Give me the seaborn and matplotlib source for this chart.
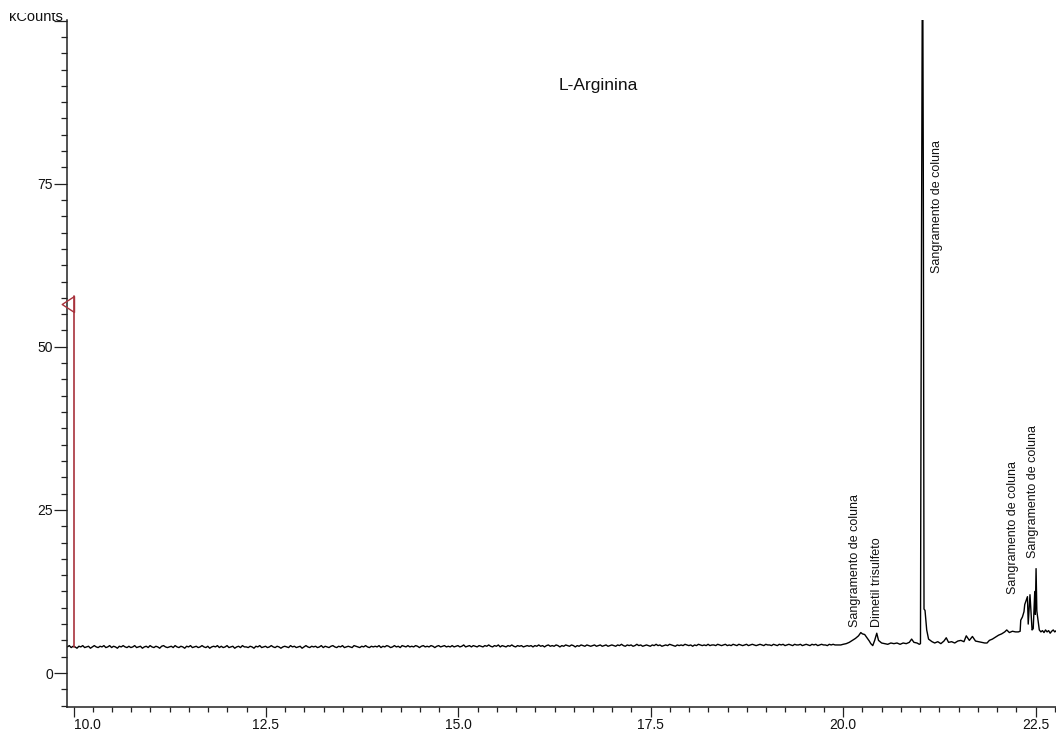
import numpy as np
import pandas as pd
import matplotlib
matplotlib.use("Agg")
import matplotlib.pyplot as plt
import seaborn as sns
from matplotlib.path import Path
from matplotlib.patches import Rectangle
from matplotlib.ticker import FixedLocator, MultipleLocator

sns.set_theme(style="ticks")
plt.rcParams["font.family"] = ["Liberation Sans", "DejaVu Sans"]

# --- chromatogram data (retention time in min, intensity in kCounts) ---
# baseline sampled every 0.025 min starting at 9.92 min
baseline_start = 9.92
baseline_step = 0.025
baseline_counts = [
    4.0, 4.2, 3.9, 4.1, 4.0, 3.8, 4.1, 4.0, 4.2, 3.9, 4.0, 4.1, 3.8, 4.0, 4.2, 4.0, 3.9, 4.1, 4.0, 4.2,
    3.9, 4.0, 4.2, 3.9, 4.1, 4.0, 3.8, 4.1, 4.0, 4.2, 4.0, 3.9, 4.1, 3.9, 4.0, 4.2, 3.9, 4.0, 4.1, 3.8,
    4.0, 4.1, 3.9, 4.2, 4.0, 3.9, 4.1, 4.0, 3.8, 4.1, 4.2, 4.0, 3.9, 4.0, 4.1, 3.9, 4.2, 4.0, 3.9, 4.1,
    4.0, 3.8, 4.1, 4.0, 4.2, 3.9, 4.0, 4.1, 3.9, 4.0, 4.2, 4.0, 3.9, 4.1, 3.8, 4.0, 4.1, 4.0, 4.2, 3.9,
    4.1, 3.9, 4.0, 4.2, 3.9, 4.0, 4.1, 3.8, 4.0, 4.1, 3.9, 4.2, 4.0, 4.0, 3.9, 4.1, 4.0, 3.8, 4.1, 4.0,
    4.2, 3.9, 4.0, 4.1, 3.9, 4.0, 4.2, 4.0, 3.9, 4.1, 4.0, 3.8, 4.0, 4.1, 4.0, 3.9, 4.2, 4.0, 4.1, 3.9,
    4.0, 4.1, 3.8, 4.0, 4.2, 4.0, 3.9, 4.1, 4.0, 4.1, 3.9, 4.0, 4.2, 3.9, 4.1, 4.0, 3.9, 4.1, 4.2, 4.0,
    3.9, 4.1, 4.0, 4.2, 3.9, 4.0, 4.1, 4.0, 3.9, 4.2, 4.1, 4.0, 3.9, 4.1, 4.0, 4.2, 4.0, 3.9, 4.1, 4.0,
    4.1, 4.0, 4.2, 3.9, 4.1, 4.0, 4.2, 4.1, 3.9, 4.0, 4.2, 4.0, 4.1, 3.9, 4.2, 4.1, 4.0, 4.2, 4.0, 4.1,
    4.0, 4.2, 4.1, 3.9, 4.1, 4.2, 4.0, 4.1, 4.0, 4.2, 4.1, 3.9, 4.1, 4.2, 4.0, 4.1, 4.2, 4.0, 4.1, 4.0,
    4.2, 4.0, 4.1, 4.2, 4.0, 4.1, 4.3, 4.0, 4.1, 4.2, 4.0, 4.2, 4.1, 4.0, 4.2, 4.1, 4.0, 4.2, 4.1, 4.3,
    4.1, 4.0, 4.2, 4.1, 4.3, 4.0, 4.2, 4.1, 4.0, 4.2, 4.1, 4.3, 4.1, 4.0, 4.2, 4.1, 4.2, 4.0, 4.1, 4.2,
    4.1, 4.2, 4.0, 4.2, 4.1, 4.3, 4.1, 4.2, 4.0, 4.2, 4.3, 4.1, 4.2, 4.1, 4.3, 4.2, 4.0, 4.2, 4.1, 4.3,
    4.2, 4.1, 4.3, 4.2, 4.0, 4.2, 4.1, 4.3, 4.2, 4.1, 4.3, 4.2, 4.1, 4.2, 4.3, 4.1, 4.2, 4.3, 4.1, 4.2,
    4.3, 4.1, 4.2, 4.3, 4.2, 4.1, 4.3, 4.2, 4.4, 4.2, 4.1, 4.3, 4.2, 4.3, 4.1, 4.2, 4.4, 4.2, 4.3, 4.1,
    4.2, 4.3, 4.2, 4.1, 4.3, 4.2, 4.4, 4.2, 4.3, 4.1, 4.2, 4.3, 4.2, 4.4, 4.3, 4.2, 4.1, 4.3, 4.2, 4.3,
    4.2, 4.4, 4.3, 4.2, 4.3, 4.1, 4.3, 4.2, 4.4, 4.3, 4.2, 4.3, 4.2, 4.4, 4.2, 4.3, 4.3, 4.2, 4.4, 4.3,
    4.2, 4.3, 4.4, 4.2, 4.3, 4.2, 4.4, 4.3, 4.2, 4.4, 4.3, 4.2, 4.3, 4.4, 4.2, 4.3, 4.4, 4.3, 4.2, 4.3,
    4.4, 4.3, 4.2, 4.4, 4.3, 4.3, 4.2, 4.4, 4.3, 4.2, 4.4, 4.3, 4.4, 4.2, 4.3, 4.4, 4.3, 4.2, 4.4, 4.3,
    4.3, 4.4, 4.2, 4.3, 4.4, 4.3, 4.2, 4.4, 4.3, 4.4, 4.2, 4.3, 4.4, 4.3, 4.3, 4.2, 4.4, 4.3, 4.4, 4.3,
    4.3,
]

# elution region with peaks
peak_times = [
    19.97, 20.00, 20.04, 20.08, 20.12, 20.16, 20.20, 20.23, 20.25, 20.28, 20.31, 20.34, 20.36, 20.385,
    20.41, 20.437, 20.46, 20.50, 20.54, 20.58, 20.62, 20.66, 20.70, 20.74, 20.78, 20.82, 20.86, 20.89,
    20.92, 20.96, 20.99, 21.005, 21.012, 21.019, 21.032, 21.042, 21.051, 21.064, 21.086, 21.11, 21.155,
    21.19, 21.23, 21.27, 21.31, 21.34, 21.37, 21.41, 21.45, 21.49, 21.53, 21.57, 21.60, 21.64, 21.68,
    21.72, 21.76, 21.80, 21.84, 21.87, 21.90, 21.94, 21.98, 22.02, 22.06, 22.10, 22.126, 22.16, 22.20,
    22.24, 22.277, 22.300, 22.308, 22.33, 22.35, 22.36, 22.395, 22.405, 22.428, 22.455, 22.47, 22.49,
    22.497, 22.507, 22.517, 22.549, 22.57, 22.59, 22.61, 22.63, 22.65, 22.67, 22.69, 22.71, 22.73,
    22.75, 22.77, 22.79,
]
peak_counts = [
    4.3, 4.4, 4.5, 4.7, 5.0, 5.3, 5.7, 6.2, 6.0, 5.9, 5.4, 4.9, 4.5, 4.2,
    5.0, 6.1, 5.0, 4.6, 4.5, 4.4, 4.6, 4.5, 4.6, 4.4, 4.6, 4.5, 4.7, 5.2,
    4.7, 4.6, 4.4, 4.5, 40.0, 67.6, 118.0, 76.0, 9.8, 9.6, 6.6, 5.2, 4.8,
    4.6, 4.8, 4.5, 4.9, 5.4, 4.7, 4.8, 4.6, 4.9, 5.0, 4.8, 5.7, 5.0, 5.6,
    4.9, 4.8, 4.7, 4.6, 4.6, 5.0, 5.2, 5.5, 5.8, 6.0, 6.3, 6.6, 6.2, 6.4,
    6.3, 6.3, 6.4, 8.1, 8.6, 9.4, 10.5, 11.7, 7.5, 12.0, 6.6, 6.8, 12.5,
    9.0, 16.0, 9.5, 6.6, 6.3, 6.5, 6.2, 6.6, 6.3, 6.5, 6.1, 6.4, 6.6,
    6.3, 6.5, 6.4,
]

# injection marker
marker_time = 10.01
marker_base = 4.0
marker_top = 57.8
marker_level = 56.6

title_text = "L-Arginina"
title_pos = (16.815, 90.0)

peak_labels = ["Sangramento de coluna", "Dimetil trisulfeto", "Sangramento de coluna",
               "Sangramento de coluna", "Sangramento de coluna"]
label_times = [20.155, 20.437, 21.216, 22.208, 22.468]
label_bottoms = [7.05, 7.1, 61.3, 12.1, 17.6]

x_ticks = [10.0, 12.5, 15.0, 17.5, 20.0, 22.5]
x_tick_labels = ["10.0", "12.5", "15.0", "17.5", "20.0", "22.5"]
y_ticks = [0, 25, 50, 75, 100]
y_tick_labels = ["0", "25", "50", "75", ""]
y_unit = "kCounts"

time = np.concatenate([baseline_start + baseline_step * np.arange(len(baseline_counts)),
                       np.array(peak_times)])
counts = np.concatenate([np.array(baseline_counts), np.array(peak_counts)])
df = pd.DataFrame({"time": time, "kcounts": counts})

W, H = 1056, 732
fig = plt.figure(figsize=(W / 100, H / 100), dpi=100)
fig.patch.set_facecolor("white")
ax = fig.add_axes([67 / W, 25 / H, (W - 67) / W, 687 / H])
ax.set_facecolor("white")

sns.lineplot(data=df, x="time", y="kcounts", ax=ax, color="black", lw=1.0,
             estimator=None, sort=False)

red = "#a8323c"
ax.plot([marker_time, marker_time], [marker_base, marker_top], color=red, lw=1.2, zorder=3)
tri = Path([(-1.0, 0.0), (0.0, 0.65), (0.0, -0.65), (-1.0, 0.0)],
           [Path.MOVETO, Path.LINETO, Path.LINETO, Path.CLOSEPOLY])
ax.plot([marker_time], [marker_level], marker=tri, ms=17.7, mfc="none", mec=red,
        mew=1.0, ls="none", zorder=3, clip_on=False)

ax.set_xlim(9.9155, 22.766)
ax.set_ylim(-5.21, 100.09)

ax.xaxis.set_major_locator(FixedLocator(x_ticks))
ax.xaxis.set_minor_locator(MultipleLocator(0.25))
ax.yaxis.set_major_locator(FixedLocator(y_ticks))
ax.yaxis.set_minor_locator(MultipleLocator(2.5))
ax.set_xticklabels(x_tick_labels)
ax.set_yticklabels(y_tick_labels)
ax.get_xticklabels()[0].set_ha("left")

ax.tick_params(axis="x", which="major", length=7.5, width=0.9, pad=0.5, labelsize=10,
               direction="out", colors="#222222")
ax.tick_params(axis="x", which="minor", length=3.6, width=0.9, direction="out", colors="#222222")
ax.tick_params(axis="y", which="major", length=9.5, width=0.9, pad=0.5, labelsize=10,
               direction="out", colors="#222222")
ax.tick_params(axis="y", which="minor", length=4.3, width=0.9, direction="out", colors="#222222")
for lab in ax.get_xticklabels() + ax.get_yticklabels():
    lab.set_color("#111111")

for side in ("top", "right"):
    ax.spines[side].set_visible(False)
for side in ("left", "bottom"):
    ax.spines[side].set_linewidth(1.1)
    ax.spines[side].set_color("#222222")
ax.set_xlabel("")
ax.set_ylabel("")

ax.text(title_pos[0], title_pos[1], title_text, ha="center", va="center", fontsize=12.5,
        color="#111111")

for txt, tx, by in zip(peak_labels, label_times, label_bottoms):
    ax.text(tx, by, txt, rotation=90, ha="center", va="bottom", fontsize=9, color="#111111")

fig.text(63 / W, 1 - 21 / H, y_unit, ha="right", va="baseline", fontsize=10.5, color="#111111")
fig.add_artist(Rectangle((0, 1 - 13 / H), 66 / W, 13 / H, transform=fig.transFigure,
                         facecolor="white", edgecolor="none", zorder=10))

fig.savefig("out.png", dpi=100)
